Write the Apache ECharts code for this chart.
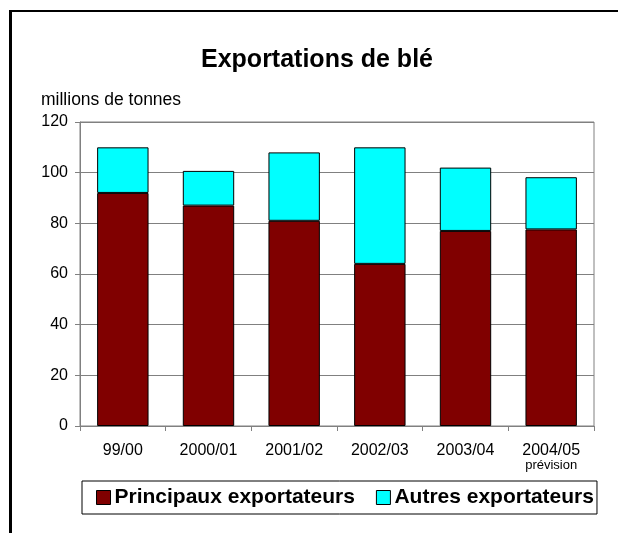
<!DOCTYPE html>
<html>
<head>
<meta charset="utf-8">
<script src="https://cdn.jsdelivr.net/npm/echarts@6/dist/echarts.min.js"></script>
<style>
html,body{margin:0;padding:0;background:#fff;}
#chart{width:618px;height:533px;}
</style>
</head>
<body>
<div id="chart"></div>
<script>
const titleText = 'Exportations de blé';
const unitText = 'millions de tonnes';
const categories = ['99/00', '2000/01', '2001/02', '2002/03', '2003/04', '2004/05\nprévision'];
const seriesNames = ['Principaux exportateurs', 'Autres exportateurs'];
const principaux = [92, 87, 81, 64, 77, 77.6];
const autres = [18, 13.7, 27, 46, 25, 20.6];
const yTicks = [0, 20, 40, 60, 80, 100, 120];

const FONT = '"Liberation Sans", Arial, sans-serif';
const chart = echarts.init(document.getElementById('chart'), null, {renderer: 'canvas'});

chart.setOption({
  animation: false,
  backgroundColor: '#ffffff',
  textStyle: {fontFamily: FONT},
  graphic: [
    {type: 'line', shape: {x1: 10.5, y1: 11, x2: 618, y2: 11}, style: {stroke: '#000', lineWidth: 2}},
    {type: 'line', shape: {x1: 10.5, y1: 10, x2: 10.5, y2: 533}, style: {stroke: '#000', lineWidth: 3}},
    {type: 'text', x: 317, y: 60, style: {text: titleText, font: 'bold 25px ' + FONT, fill: '#000', align: 'center', verticalAlign: 'middle'}},
    {type: 'text', x: 41, y: 100, style: {text: unitText, font: '17.5px ' + FONT, fill: '#000', align: 'left', verticalAlign: 'middle'}}
  ],
  legend: {
    data: seriesNames,
    left: 82,
    top: 481,
    orient: 'horizontal',
    itemWidth: 14,
    itemHeight: 14,
    itemGap: 21,
    padding: [6, 3, 6, 14],
    borderColor: '#000',
    borderWidth: 1,
    icon: 'rect',
    textStyle: {fontSize: 21, fontWeight: 'bold', color: '#000', fontFamily: FONT, padding: [0, 0, 0, -1]},
    itemStyle: {borderColor: '#000', borderWidth: 1}
  },
  grid: {
    left: 80, right: 24, top: 122, bottom: 107,
    show: true, borderColor: '#808080', borderWidth: 1, backgroundColor: 'transparent'
  },
  xAxis: {
    type: 'category',
    data: categories,
    boundaryGap: true,
    axisLine: {lineStyle: {color: '#808080', width: 1}},
    axisTick: {show: true, alignWithLabel: false, length: 5, lineStyle: {color: '#808080'}},
    axisLabel: {
      margin: 17,
      color: '#000',
      formatter: function (v) {
        const parts = v.split('\n');
        return parts.length > 1 ? '{a|' + parts[0] + '}\n{b|' + parts[1] + '}' : '{a|' + v + '}';
      },
      rich: {
        a: {fontSize: 16, fontFamily: FONT, color: '#000', lineHeight: 16},
        b: {fontSize: 13, fontFamily: FONT, color: '#000', lineHeight: 12}
      }
    }
  },
  yAxis: {
    type: 'value',
    min: yTicks[0],
    max: yTicks[yTicks.length - 1],
    interval: yTicks[1] - yTicks[0],
    axisLine: {show: true, lineStyle: {color: '#808080', width: 1}},
    axisTick: {show: true, length: 5, lineStyle: {color: '#808080'}},
    axisLabel: {margin: 12, fontSize: 16, color: '#000', fontFamily: FONT},
    splitLine: {show: true, lineStyle: {color: '#808080', width: 1}}
  },
  series: [
    {
      name: seriesNames[0], type: 'bar', stack: 'total', data: principaux, barWidth: '60%',
      itemStyle: {color: '#800000', borderColor: '#000', borderWidth: 1}
    },
    {
      name: seriesNames[1], type: 'bar', stack: 'total', data: autres, barWidth: '60%',
      itemStyle: {color: '#00ffff', borderColor: '#000', borderWidth: 1}
    }
  ]
});
</script>
</body>
</html>
